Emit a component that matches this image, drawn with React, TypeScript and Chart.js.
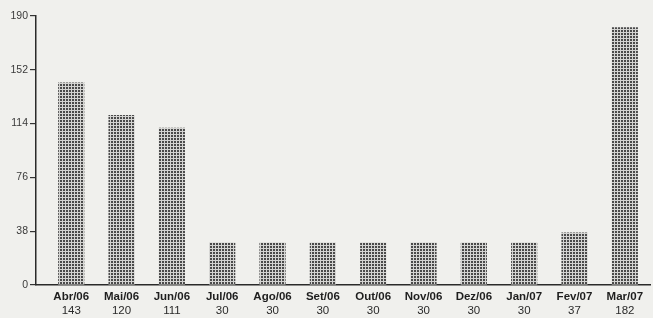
import React, { useEffect, useRef } from 'react';
import { Chart, registerables } from 'chart.js';
Chart.register(...registerables);

const months = ['Abr/06', 'Mai/06', 'Jun/06', 'Jul/06', 'Ago/06', 'Set/06', 'Out/06', 'Nov/06', 'Dez/06', 'Jan/07', 'Fev/07', 'Mar/07'];
const values = [143, 120, 111, 30, 30, 30, 30, 30, 30, 30, 37, 182];
const yTicks = [0, 38, 76, 114, 152, 190];

export default function App() {
  const ref = useRef<HTMLCanvasElement>(null);
  useEffect(() => {
    const canvas = ref.current!;
    const tile = document.createElement('canvas');
    tile.width = 3;
    tile.height = 3;
    const tc = tile.getContext('2d')!;
    tc.fillStyle = '#4a4a4a';
    tc.fillRect(0, 0, 3, 3);
    tc.fillStyle = '#d4d4d2';
    tc.fillRect(2, 0, 1, 3);
    tc.fillRect(0, 2, 3, 1);
    const pattern = canvas.getContext('2d')!.createPattern(tile, 'repeat');

    const setTicks = (s: any) => {
      s.ticks = months.map((_, i) => ({ value: i }));
    };

    const chart = new Chart(canvas, {
      type: 'bar',
      data: {
        datasets: [
          {
            data: values.map((v, i) => ({ x: i, y: v })),
            backgroundColor: pattern as any,
            barPercentage: 0.52,
            categoryPercentage: 1,
          },
        ],
      },
      options: {
        animation: false,
        responsive: false,
        maintainAspectRatio: false,
        layout: { padding: { top: 16, right: 3, left: 0, bottom: 0 } },
        plugins: { legend: { display: false }, tooltip: { enabled: false } },
        scales: {
          x: {
            type: 'linear',
            offset: false,
            min: -0.7,
            max: 11.5,
            position: 'bottom',
            afterBuildTicks: setTicks,
            afterFit: (s: any) => {
              s.height = 18;
            },
            ticks: {
              autoSkip: false,
              maxRotation: 0,
              padding: 5,
              color: '#1e1e1e',
              font: { family: 'Liberation Sans, Arial, sans-serif', size: 11.5, weight: 'bold' },
              callback: (v: any) => months[v as number] ?? '',
            },
            grid: { display: false, drawTicks: false, tickLength: 0 },
            border: { color: '#2a2a2a', width: 1.5 },
          },
          xv: {
            type: 'linear',
            offset: false,
            min: -0.7,
            max: 11.5,
            position: 'bottom',
            afterBuildTicks: setTicks,
            afterFit: (s: any) => {
              s.height = 15;
            },
            ticks: {
              autoSkip: false,
              maxRotation: 0,
              padding: 1,
              color: '#2a2a2a',
              font: { family: 'Liberation Sans, Arial, sans-serif', size: 11.5 },
              callback: (v: any) => String(values[v as number] ?? ''),
            },
            grid: { display: false, drawTicks: false, tickLength: 0 },
            border: { display: false },
          },
          y: {
            min: 0,
            max: 190,
            afterBuildTicks: (s: any) => {
              s.ticks = yTicks.map((v) => ({ value: v }));
            },
            afterFit: (s: any) => {
              s.width = 36;
            },
            ticks: {
              padding: 2,
              color: '#3a3a3a',
              font: { family: 'Liberation Sans, Arial, sans-serif', size: 10.5 },
            },
            grid: { drawOnChartArea: false, tickLength: 6, color: '#333', lineWidth: 1.2 },
            border: { color: '#2a2a2a', width: 1.5 },
          },
        },
      },
    });
    return () => chart.destroy();
  }, []);

  return (
    <div style={{ position: 'absolute', left: 0, top: 0, width: 653, height: 318, background: '#f0f0ed' }}>
      <canvas ref={ref} width={653} height={318} style={{ display: 'block' }} />
    </div>
  );
}
